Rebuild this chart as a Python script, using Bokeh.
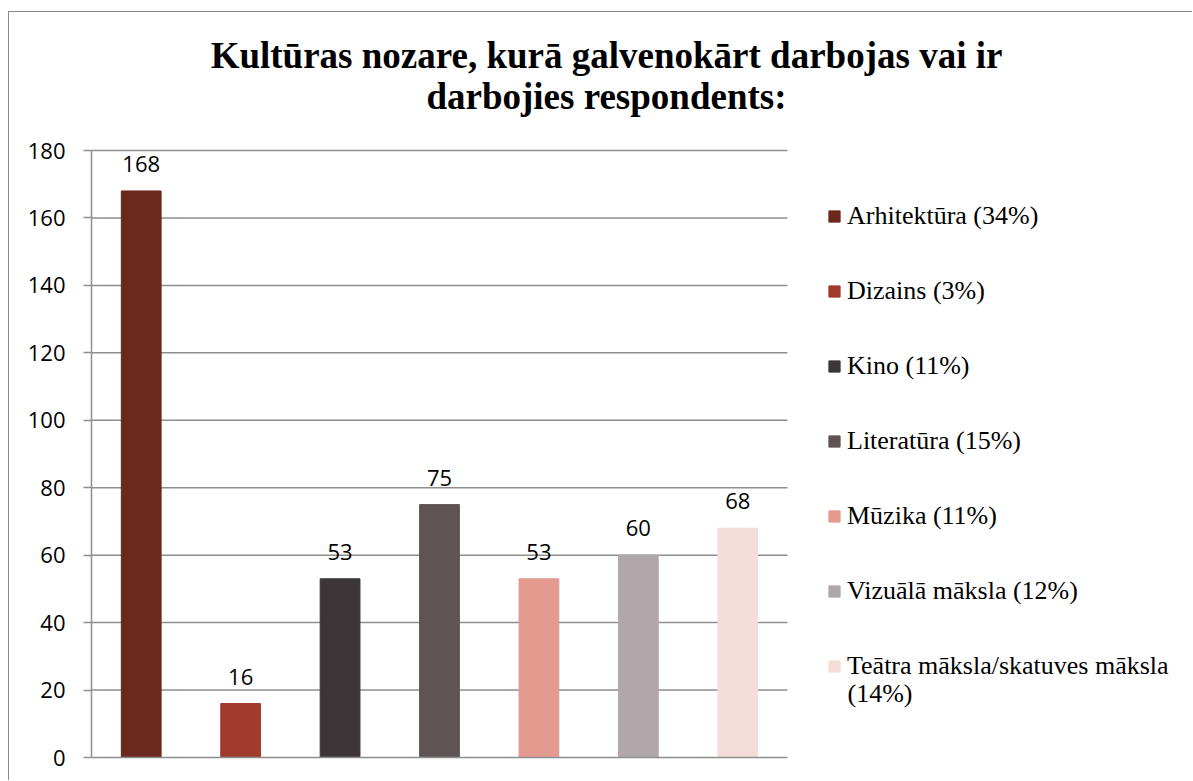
from bokeh.plotting import figure
from bokeh.models import (ColumnDataSource, Legend, LegendItem, LabelSet,
                          FixedTicker, Range1d)
from bokeh.core.properties import value
from bokeh.embed import file_html
from bokeh.resources import INLINE

categories = ["Arhitektūra", "Dizains", "Kino", "Literatūra", "Mūzika",
              "Vizuālā māksla", "Teātra māksla/skatuves māksla"]
values = [168, 16, 53, 75, 53, 60, 68]
percents = ["34%", "3%", "11%", "15%", "11%", "12%", "14%"]
colors = ["#6B281C", "#A03A2A", "#3D3638", "#5E5355", "#E49A8F", "#B0A7AA", "#F4DCD9"]
y_ticks = [0, 20, 40, 60, 80, 100, 120, 140, 160, 180]
title_lines = ["Kultūras nozare, kurā galvenokārt darbojas vai ir",
               "darbojies respondents:"]

n = len(categories)
# the last legend entry wraps: its percentage goes on a second line
legend_labels = [c + " (" + pc + ")" for c, pc in zip(categories[:-1], percents[:-1])]
legend_labels.append(categories[-1])
wrapped_part = "(" + percents[-1] + ")"

# ---- layout geometry (page pixels) ----
OX, OY = 9, 12                  # canvas origin inside the 1px outer border
W, H = 1193 - OX, 781 - OY
PLOT_L, PLOT_R = 91, 787        # plot area in page px
PLOT_T, PLOT_B = 150, 757
FRAME_L = PLOT_L - OX
FRAME_B = PLOT_B - OY
frame_w = W - FRAME_L
ymax = y_ticks[-1]
y_per_px = ymax / (PLOT_B - PLOT_T)
x_per_px = n / (PLOT_R - PLOT_L)
y_end = FRAME_B * y_per_px
x_end = frame_w * x_per_px


def px_x(px):
    return (px - PLOT_L) * x_per_px


def px_y(py):
    return (PLOT_B - py) * y_per_px


xs = [i + 0.5 for i in range(n)]
source = ColumnDataSource(dict(x=xs, cat=categories, val=values, color=colors,
                               lbl=[str(v) for v in values]))

p = figure(x_range=Range1d(0, x_end), y_range=Range1d(0, y_end), width=W, height=H,
           output_backend="svg", toolbar_location=None,
           min_border_left=FRAME_L, min_border_right=0, min_border_top=0,
           min_border_bottom=H - FRAME_B)
p.styles = {"margin-left": f"{OX - 1}px", "margin-top": f"{OY - 1}px",
            "border-left": "1px solid #898989", "border-top": "1px solid #898989"}
p.outline_line_color = None
p.background_fill_color = "white"
p.border_fill_color = "white"

# gridlines (only over the plot area)
grid_ticks = y_ticks[1:]
p.segment(x0=[0] * len(grid_ticks), x1=[n] * len(grid_ticks), y0=grid_ticks, y1=grid_ticks,
          line_color="#8e8e8e", line_width=1.5)

r = p.vbar(x="x", top="val", width=0.4, color="color", source=source)

labels = LabelSet(x="x", y="val", text="lbl", source=source, y_offset=19,
                  text_align="center", text_baseline="alphabetic",
                  text_font=value("Open Sans"), text_font_size=value("22px"),
                  text_color="black")
p.add_layout(labels)

# axes
p.xaxis.bounds = (0, n)
p.xaxis.ticker = FixedTicker(ticks=[])
p.xaxis.major_label_text_font_size = "0px"
p.xaxis.major_tick_line_color = None
p.xaxis.minor_tick_line_color = None
p.xaxis.axis_line_color = "#8e8e8e"
p.xaxis.axis_line_width = 1.5
p.xgrid.grid_line_color = None
p.ygrid.grid_line_color = None

p.yaxis.bounds = (0, ymax)
p.yaxis.ticker = FixedTicker(ticks=y_ticks)
p.yaxis.major_label_text_font = "Open Sans"
p.yaxis.major_label_text_font_size = "22px"
p.yaxis.major_label_text_color = "black"
p.yaxis.major_tick_out = 8
p.yaxis.major_tick_in = 0
p.yaxis.minor_tick_line_color = None
p.yaxis.major_tick_line_color = "#8e8e8e"
p.yaxis.major_tick_line_width = 1.5
p.yaxis.axis_line_color = "#8e8e8e"
p.yaxis.axis_line_width = 1.5
p.yaxis.major_label_standoff = 18

# legend
items = [LegendItem(label=legend_labels[i], renderers=[r], index=i) for i in range(n)]
legend = Legend(items=items, location=(827 - PLOT_L, 76), padding=0, margin=0,
                border_line_color=None, background_fill_alpha=0,
                glyph_width=14, glyph_height=14, label_standoff=6,
                label_height=30, spacing=45,
                label_text_font="Liberation Serif", label_text_font_size="26px",
                label_text_color="black")
p.add_layout(legend, "center")

wrap_src = ColumnDataSource(dict(x=[px_x(847)], y=[px_y(701)], t=[wrapped_part]))
p.add_layout(LabelSet(x="x", y="y", text="t", source=wrap_src,
                      text_align="left", text_baseline="alphabetic",
                      text_font=value("Liberation Serif"), text_font_size=value("26px"),
                      text_color="black"))

# title
title_baselines = [67, 108]
title_src = ColumnDataSource(dict(x=[px_x(606)] * len(title_lines),
                                  y=[px_y(b) for b in title_baselines],
                                  t=title_lines))
p.add_layout(LabelSet(x="x", y="y", text="t", source=title_src,
                      text_align="center", text_baseline="alphabetic",
                      text_font=value("Liberation Serif"), text_font_style=value("bold"),
                      text_font_size=value("37px"), text_color="black"))

open("out.html", "w").write(file_html(p, INLINE))
